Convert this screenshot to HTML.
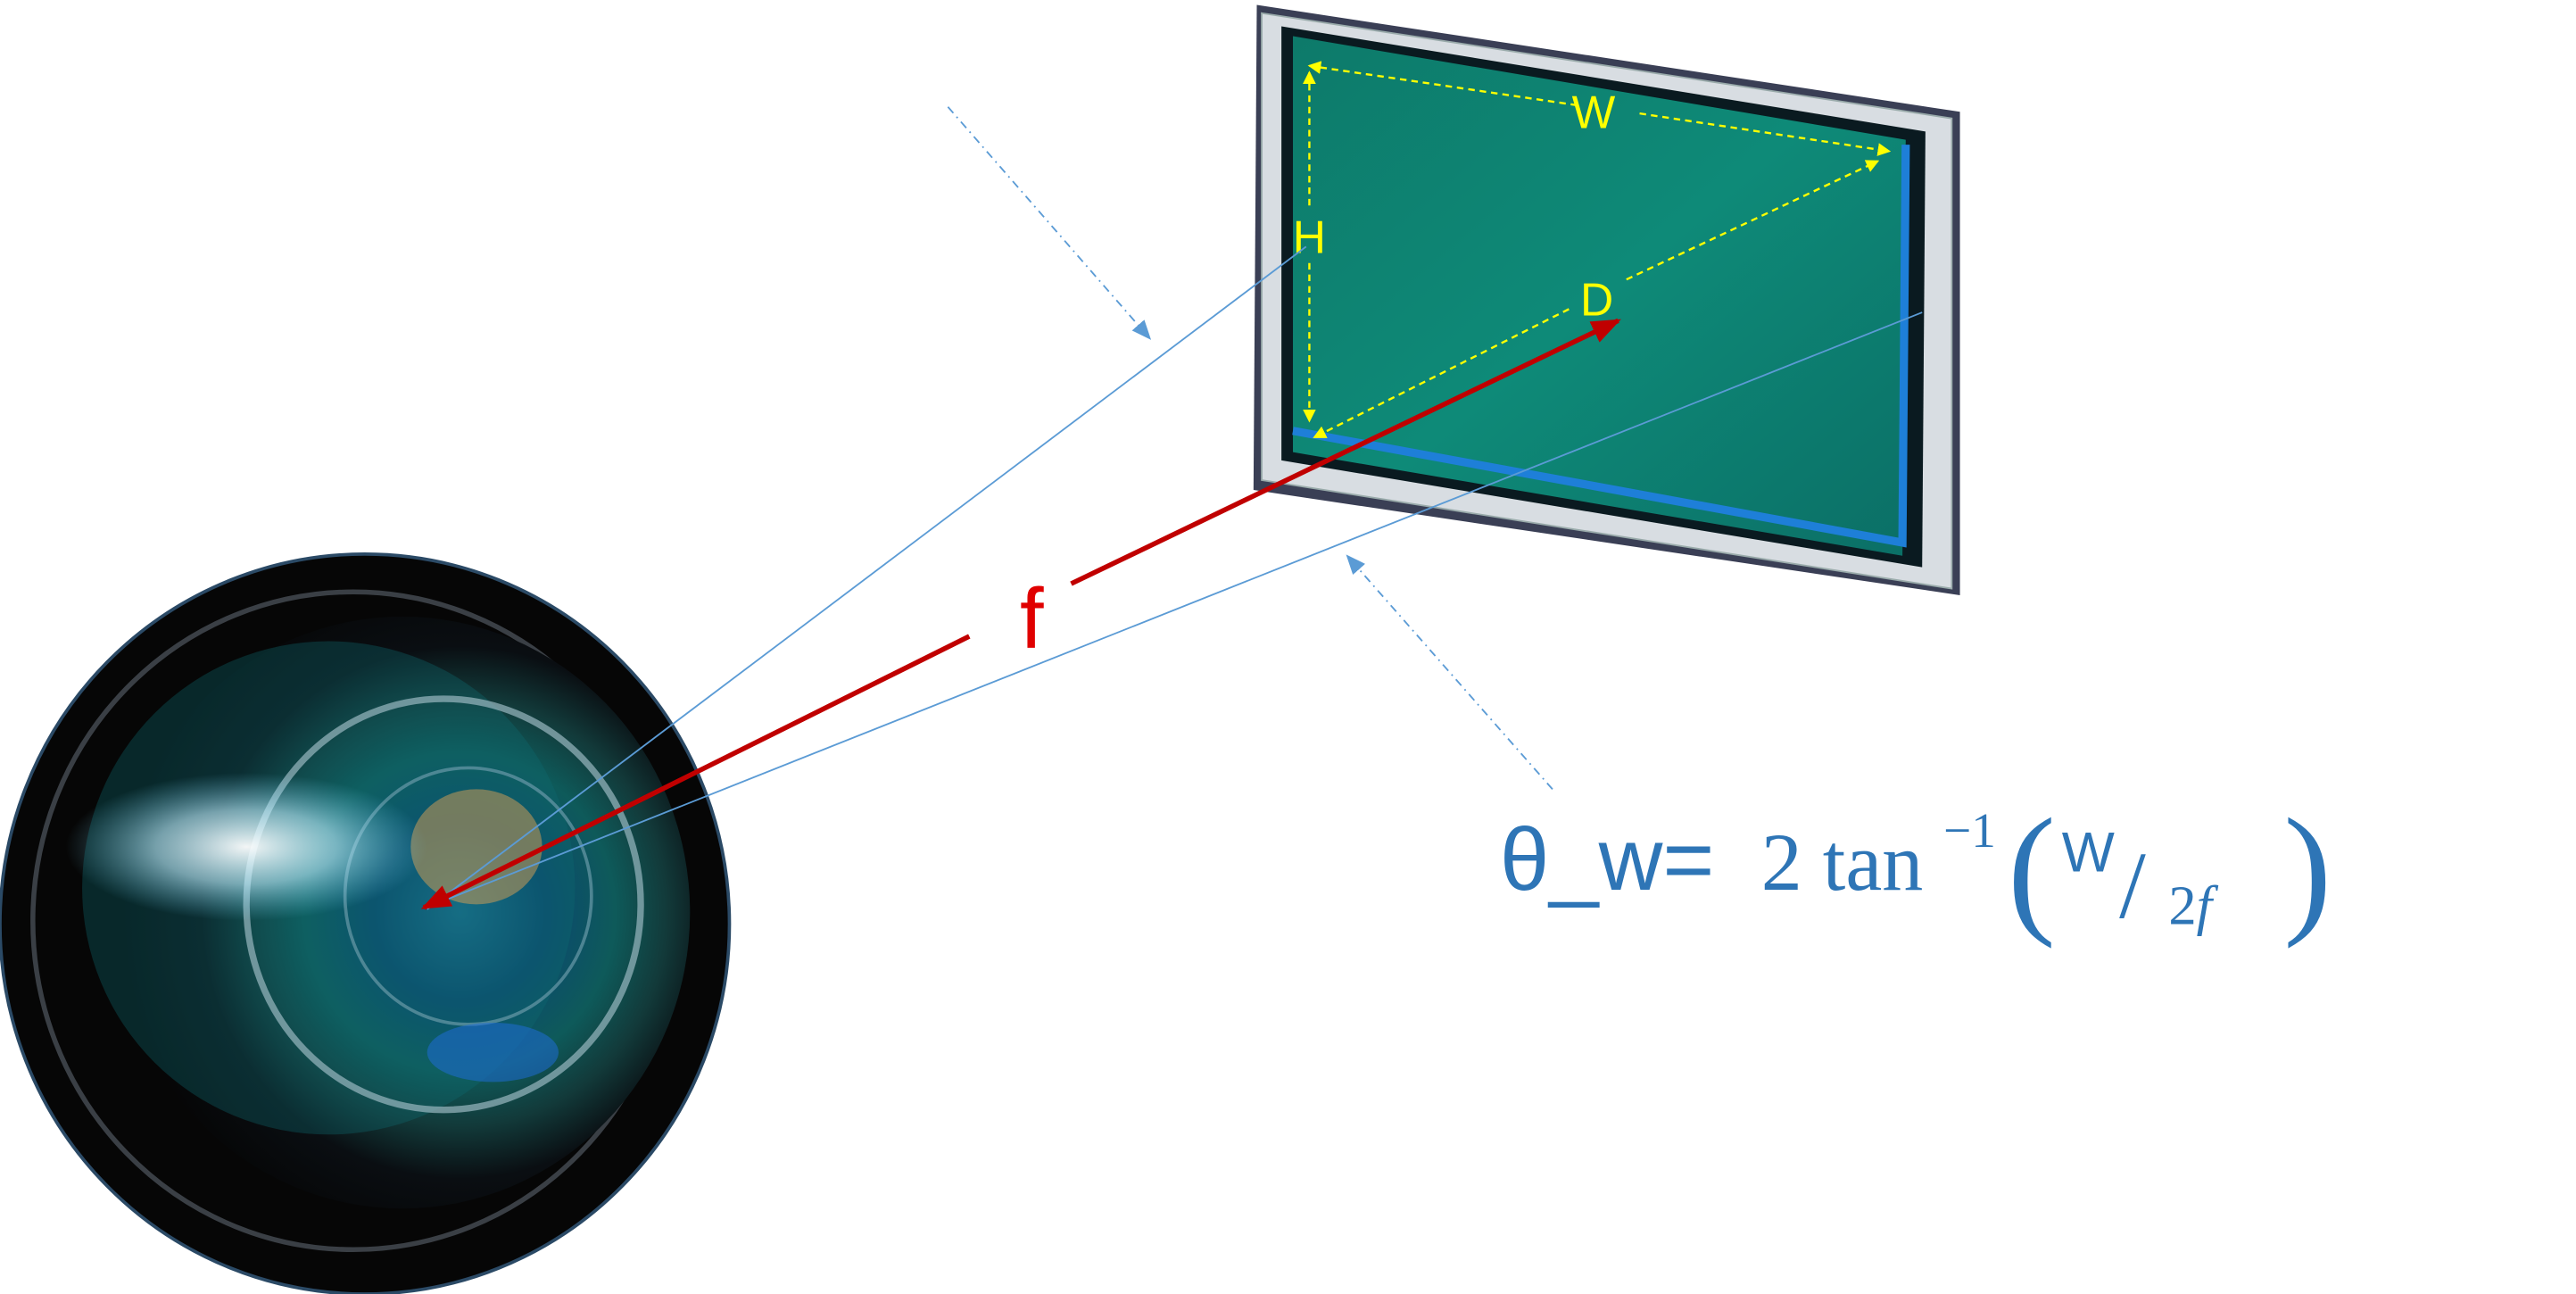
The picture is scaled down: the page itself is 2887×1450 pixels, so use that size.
<!DOCTYPE html>
<html><head><meta charset="utf-8"><style>html,body{margin:0;padding:0;background:#fff}svg{display:block}</style></head>
<body>
<svg width="2887" height="1450" viewBox="0 0 1568 787" preserveAspectRatio="none" xmlns="http://www.w3.org/2000/svg">
<defs>
<radialGradient id="lens" cx="0.6" cy="0.5" r="0.6">
<stop offset="0" stop-color="#1a6f8f"/>
<stop offset="0.25" stop-color="#0b4a6e"/>
<stop offset="0.45" stop-color="#0e5a5a"/>
<stop offset="0.6" stop-color="#123a3a"/>
<stop offset="0.75" stop-color="#0a0e12"/>
<stop offset="1" stop-color="#050505"/>
</radialGradient>
<radialGradient id="flare" cx="0.5" cy="0.5" r="0.5">
<stop offset="0" stop-color="#ffffff" stop-opacity="0.95"/>
<stop offset="0.5" stop-color="#bfefff" stop-opacity="0.6"/>
<stop offset="1" stop-color="#6fd0f0" stop-opacity="0"/>
</radialGradient>
<linearGradient id="green" x1="0" y1="0" x2="1" y2="1">
<stop offset="0" stop-color="#0d7a6a"/><stop offset="0.5" stop-color="#0e8a78"/><stop offset="1" stop-color="#0b6f66"/>
</linearGradient>
<marker id="ya" markerWidth="8" markerHeight="8" refX="7" refY="4" orient="auto" markerUnits="userSpaceOnUse"><path d="M0,0 L8,4 L0,8z" fill="#ffff00"/></marker>
<marker id="ra" markerWidth="18" markerHeight="14" refX="16" refY="7" orient="auto" markerUnits="userSpaceOnUse"><path d="M0,0 L18,7 L0,14z" fill="#c00000"/></marker>
<marker id="ba" markerWidth="12" markerHeight="10" refX="11" refY="5" orient="auto" markerUnits="userSpaceOnUse"><path d="M0,0 L12,5 L0,10z" fill="#5b9bd5"/></marker>
</defs>
<ellipse cx="222" cy="562" rx="222" ry="225" fill="#060606" stroke="#2b4a66" stroke-width="2"/>
<ellipse cx="215" cy="560" rx="195" ry="200" fill="none" stroke="#3a3f45" stroke-width="3"/>
<ellipse cx="245" cy="555" rx="175" ry="180" fill="url(#lens)"/>
<ellipse cx="200" cy="540" rx="150" ry="150" fill="#0f6a70" opacity="0.35"/>
<ellipse cx="270" cy="550" rx="120" ry="125" fill="none" stroke="#9ab8c0" stroke-width="4" opacity="0.7"/>
<ellipse cx="285" cy="545" rx="75" ry="78" fill="none" stroke="#6a9aa8" stroke-width="2" opacity="0.7"/>
<ellipse cx="290" cy="515" rx="40" ry="35" fill="#c99a55" opacity="0.55"/>
<ellipse cx="150" cy="515" rx="110" ry="45" fill="url(#flare)"/>
<ellipse cx="300" cy="640" rx="40" ry="18" fill="#1f6ee0" opacity="0.5"/>
<polygon points="765,3 1193,68 1193,362 763,298" fill="#3a3f55"/>
<polygon points="768,8 1188,72 1188,358 768,292" fill="#d8dde2" stroke="#9aa" stroke-width="1"/>
<polygon points="780,16 1172,80 1170,345 780,280" fill="#0a1a20"/>
<polygon points="787,22 1160,85 1158,338 787,275" fill="url(#green)"/>
<polyline points="787,262 1158,330 1160,88" fill="none" stroke="#1e7fd8" stroke-width="5"/>
<g stroke="#ffff00" stroke-width="1.3" stroke-dasharray="4,3" fill="none">
<line x1="960" y1="64" x2="797" y2="40" marker-end="url(#ya)"/>
<line x1="998" y1="69" x2="1150" y2="92" marker-end="url(#ya)"/>
<line x1="797" y1="125" x2="797" y2="44" marker-end="url(#ya)"/>
<line x1="797" y1="160" x2="797" y2="256" marker-end="url(#ya)"/>
<line x1="955" y1="188" x2="800" y2="266" marker-end="url(#ya)"/>
<line x1="990" y1="170" x2="1143" y2="98" marker-end="url(#ya)"/>
</g>
<g fill="#ffff00" font-family="Liberation Sans, sans-serif" font-size="28" text-anchor="middle">
<text x="970" y="78">W</text><text x="797" y="154">H</text><text x="972" y="192">D</text>
</g>
<line x1="260" y1="553" x2="795" y2="150" stroke="#5b9bd5" stroke-width="1"/>
<line x1="262" y1="551" x2="1170" y2="190" stroke="#5b9bd5" stroke-width="1"/>
<line x1="652" y1="355" x2="985" y2="195" stroke="#c00000" stroke-width="3" marker-end="url(#ra)"/>
<line x1="590" y1="387" x2="258" y2="552" stroke="#c00000" stroke-width="3" marker-end="url(#ra)"/>
<text x="628" y="394" font-family="Liberation Sans, sans-serif" font-size="52" fill="#e00000" text-anchor="middle">f</text>
<line x1="577" y1="65" x2="700" y2="206" stroke="#5b9bd5" stroke-width="1" stroke-dasharray="5,3,1,3" marker-end="url(#ba)"/>
<line x1="945" y1="480" x2="820" y2="338" stroke="#5b9bd5" stroke-width="1" stroke-dasharray="5,3,1,3" marker-end="url(#ba)"/>
<g fill="#2e75b6" font-family="Liberation Serif, serif">
<text x="913" y="541" font-size="54" font-family="Liberation Sans, sans-serif">θ_w=</text>
<text x="1072" y="541" font-size="50">2 tan</text>
<text x="1183" y="515" font-size="30">−1</text>
<text x="1222" y="558" font-size="88">(</text>
<text x="1255" y="530" font-size="34" font-family="Liberation Sans, sans-serif">W</text>
<text x="1290" y="558" font-size="58">/</text>
<text x="1320" y="562" font-size="34">2<tspan font-style="italic">f</tspan></text>
<text x="1390" y="558" font-size="88">)</text>
</g>
</svg>
</body></html>
